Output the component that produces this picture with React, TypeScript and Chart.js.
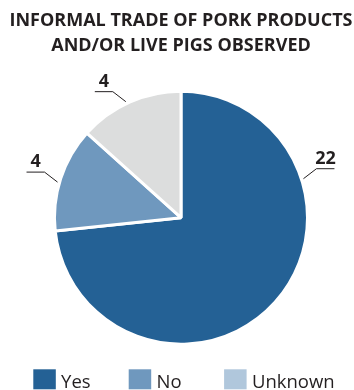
import React, { useEffect, useRef } from "react";
import { Chart, registerables } from "chart.js";

Chart.register(...registerables);

const TITLE_LINES = ["INFORMAL TRADE OF PORK PRODUCTS", "AND/OR LIVE PIGS OBSERVED"];
const CATEGORIES = ["Yes", "No", "Unknown"];
const VALUES = [22, 4, 4];
const SLICE_COLORS = ["#246195", "#6f98be", "#dcdddd"];
const LEGEND_COLORS = ["#246195", "#6f98be", "#b0c7dc"];
// fraction along each slice's arc where its leader line starts
const LABEL_ANCHORS = [0.274, 0.46, 0.47];

const TEXT_COLOR = "#231f20";
const FONT = '"Open Sans", "Noto Sans", sans-serif';

const leaderPlugin = {
  id: "leaderLabels",
  afterDatasetsDraw(chart: any) {
    const ctx = chart.ctx;
    const meta = chart.getDatasetMeta(0);
    const data = chart.data.datasets[0].data;
    ctx.save();
    meta.data.forEach((arc: any, i: number) => {
      const p = arc.getProps(["x", "y", "startAngle", "endAngle", "outerRadius"], true);
      const a = p.startAngle + (p.endAngle - p.startAngle) * LABEL_ANCHORS[i];
      const r = p.outerRadius + 2;
      const sx = p.x + Math.cos(a) * r;
      const sy = p.y + Math.sin(a) * r;
      const side = Math.cos(a) >= 0 ? 1 : -1;
      const ex = sx + side * 13;
      const ey = sy - 10;
      const hx = ex + side * 18;
      ctx.strokeStyle = TEXT_COLOR;
      ctx.lineWidth = 1;
      ctx.beginPath();
      ctx.moveTo(sx, sy);
      ctx.lineTo(ex, ey);
      ctx.lineTo(hx, ey);
      ctx.stroke();
      ctx.fillStyle = TEXT_COLOR;
      ctx.font = `bold 18px ${FONT}`;
      ctx.textAlign = "center";
      ctx.textBaseline = "alphabetic";
      ctx.fillText(String(data[i]), (ex + hx) / 2, ey - 5);
    });
    ctx.restore();
  },
};

const columnLegendPlugin = {
  id: "columnLegend",
  afterDraw(chart: any) {
    const ctx = chart.ctx;
    const labels: string[] = chart.data.labels;
    const boxTop = chart.height - 20.7;
    ctx.save();
    labels.forEach((lab, i) => {
      const bx = 33.3 + i * 95.4;
      ctx.fillStyle = LEGEND_COLORS[i];
      ctx.fillRect(bx, boxTop, 22.5, 20);
      ctx.fillStyle = TEXT_COLOR;
      ctx.font = `18.5px ${FONT}`;
      ctx.textAlign = "left";
      ctx.textBaseline = "alphabetic";
      ctx.fillText(lab, bx + 22.5 + 5.3, boxTop + 19);
    });
    ctx.restore();
  },
};

export default function App() {
  const ref = useRef<HTMLCanvasElement | null>(null);

  useEffect(() => {
    if (!ref.current) return;
    const chart = new Chart(ref.current, {
      type: "pie",
      data: {
        labels: CATEGORIES,
        datasets: [
          {
            data: VALUES,
            backgroundColor: SLICE_COLORS,
            borderColor: "#ffffff",
            borderWidth: 3,
          },
        ],
      },
      options: {
        responsive: false,
        animation: false,
        layout: { padding: { left: 8, right: 0, top: 0, bottom: 44.3 } },
        plugins: {
          legend: { display: false },
          tooltip: { enabled: false },
          title: {
            display: true,
            text: TITLE_LINES,
            color: TEXT_COLOR,
            font: { family: FONT, size: 18, weight: "bold", lineHeight: 25 / 18 },
            padding: { top: 8.5, bottom: 31.2 },
          },
        },
      },
      plugins: [leaderPlugin, columnLegendPlugin],
    });
    return () => chart.destroy();
  }, []);

  return (
    <div style={{ position: "fixed", left: 0, top: 0, width: 354, height: 390, background: "#fff" }}>
      <canvas ref={ref} width={354} height={390} style={{ display: "block" }} />
    </div>
  );
}
